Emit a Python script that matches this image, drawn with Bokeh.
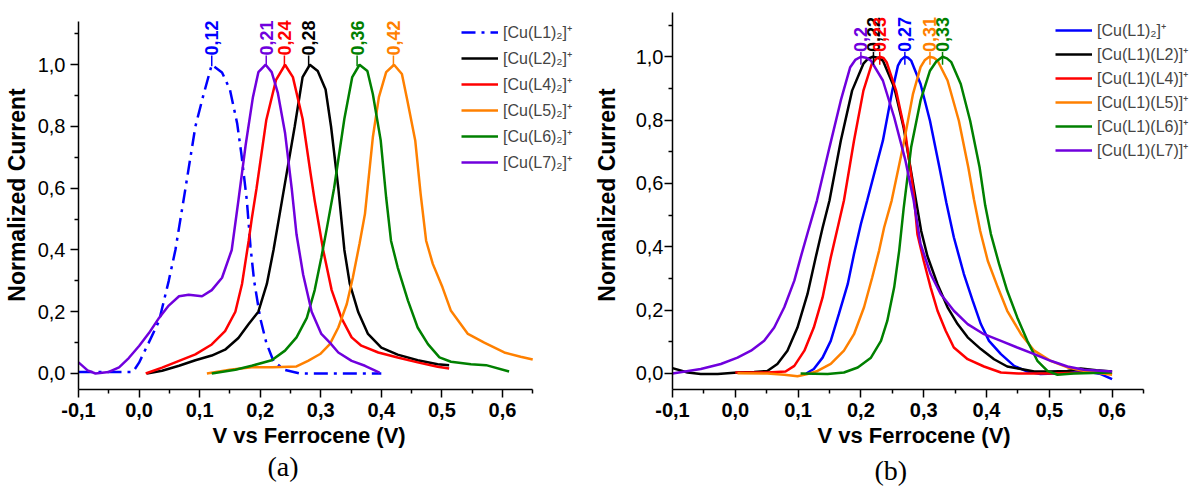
import math
from bokeh.plotting import figure
from bokeh.models import (Range1d, FixedTicker, CustomJSTickFormatter, Legend,
                          LegendItem, Title, ColumnDataSource)
from bokeh.layouts import row
from bokeh.core.properties import value
from bokeh.embed import file_html
from bokeh.resources import INLINE

# ---------------- data: panel (a) ----------------
a_L1_x = [-0.1, -0.05, -0.01, 0.0, 0.016, 0.033, 0.049, 0.06, 0.075, 0.093, 0.106, 0.12, 0.137, 0.15,
          0.162, 0.169, 0.178, 0.184, 0.19, 0.2, 0.21, 0.222, 0.24, 0.265, 0.3, 0.35, 0.4]
a_L1_y = [0.005, 0.005, 0.005, 0.035, 0.10, 0.17, 0.30, 0.40, 0.58, 0.80, 0.90, 1.0, 0.975, 0.92,
          0.81, 0.71, 0.56, 0.41, 0.30, 0.18, 0.10, 0.04, 0.012, 0.0, 0.0, 0.0, 0.0]

a_L2_x = [0.013, 0.038, 0.066, 0.093, 0.12, 0.142, 0.164, 0.181, 0.197, 0.211, 0.222, 0.236, 0.243,
          0.257, 0.27, 0.282, 0.295, 0.308, 0.317, 0.329, 0.339, 0.348, 0.362, 0.378, 0.40, 0.427,
          0.46, 0.493, 0.512]
a_L2_y = [0.0, 0.009, 0.025, 0.043, 0.058, 0.077, 0.115, 0.16, 0.20, 0.29, 0.40, 0.56, 0.64,
          0.80, 0.96, 1.0, 0.98, 0.92, 0.80, 0.60, 0.40, 0.29, 0.198, 0.128, 0.084, 0.061,
          0.043, 0.03, 0.027]

a_L4_x = [0.011, 0.038, 0.066, 0.093, 0.12, 0.142, 0.159, 0.17, 0.181, 0.186, 0.194, 0.21, 0.226,
          0.241, 0.254, 0.27, 0.283, 0.29, 0.297, 0.304, 0.318, 0.334, 0.351, 0.367, 0.395, 0.427,
          0.46, 0.493, 0.512]
a_L4_y = [0.0, 0.019, 0.041, 0.062, 0.094, 0.137, 0.20, 0.29, 0.43, 0.50, 0.60, 0.82, 0.95,
          1.0, 0.96, 0.825, 0.65, 0.56, 0.48, 0.40, 0.27, 0.18, 0.117, 0.09, 0.068, 0.052,
          0.036, 0.022, 0.016]

a_L5_x = [0.112, 0.15, 0.186, 0.22, 0.26, 0.279, 0.299, 0.315, 0.329, 0.343, 0.353, 0.364, 0.373,
          0.386, 0.396, 0.408, 0.421, 0.434, 0.443, 0.456, 0.465, 0.474, 0.485, 0.501, 0.515,
          0.543, 0.57, 0.603, 0.63, 0.65]
a_L5_y = [0.0, 0.012, 0.02, 0.02, 0.023, 0.041, 0.063, 0.095, 0.149, 0.225, 0.311, 0.42, 0.517,
          0.765, 0.895, 0.976, 1.0, 0.97, 0.884, 0.755, 0.58, 0.43, 0.355, 0.279, 0.203,
          0.128, 0.10, 0.068, 0.054, 0.045]

a_L6_x = [0.12, 0.159, 0.186, 0.219, 0.241, 0.26, 0.277, 0.29, 0.301, 0.31, 0.322, 0.339, 0.352,
          0.364, 0.377, 0.386, 0.399, 0.408, 0.416, 0.427, 0.444, 0.46, 0.477, 0.496, 0.515,
          0.548, 0.573, 0.611]
a_L6_y = [0.0, 0.012, 0.025, 0.043, 0.074, 0.117, 0.18, 0.27, 0.376, 0.47, 0.60, 0.825, 0.96,
          1.0, 0.98, 0.905, 0.755, 0.57, 0.43, 0.344, 0.236, 0.149, 0.095, 0.052, 0.038,
          0.03, 0.027, 0.0065]

a_L7_x = [-0.1, -0.085, -0.072, -0.05, -0.033, -0.017, 0.0, 0.016, 0.033, 0.049, 0.066, 0.082,
          0.104, 0.12, 0.137, 0.153, 0.164, 0.176, 0.188, 0.197, 0.209, 0.219, 0.229, 0.241,
          0.252, 0.26, 0.271, 0.285, 0.301, 0.315, 0.329, 0.351, 0.373, 0.397]
a_L7_y = [0.036, 0.01, 0.0, 0.005, 0.02, 0.05, 0.089, 0.13, 0.18, 0.22, 0.25, 0.255,
          0.25, 0.27, 0.31, 0.40, 0.56, 0.74, 0.895, 0.976, 1.0, 0.976, 0.91, 0.78,
          0.60, 0.45, 0.32, 0.20, 0.128, 0.10, 0.068, 0.041, 0.025, 0.003]

a_names = ["[Cu(L1)\u2082]\u207a", "[Cu(L2)\u2082]\u207a", "[Cu(L4)\u2082]\u207a",
           "[Cu(L5)\u2082]\u207a", "[Cu(L6)\u2082]\u207a", "[Cu(L7)\u2082]\u207a"]
a_peaks = [0.12, 0.28, 0.24, 0.42, 0.36, 0.21]
a_peak_labels = ["0,12", "0,28", "0,24", "0,42", "0,36", "0,21"]

# ---------------- data: panel (b) ----------------
b_L1_x = [0.113, 0.125, 0.139, 0.152, 0.165, 0.179, 0.189, 0.2, 0.21, 0.235, 0.25, 0.259, 0.264,
          0.27, 0.275, 0.28, 0.295, 0.31, 0.325, 0.336, 0.348, 0.364, 0.378, 0.391, 0.404, 0.423,
          0.444, 0.465, 0.486, 0.51, 0.555, 0.582, 0.6]
b_L1_y = [0.0, 0.014, 0.05, 0.103, 0.188, 0.282, 0.377, 0.472, 0.546, 0.735, 0.893, 0.972, 0.99,
          1.0, 0.997, 0.988, 0.914, 0.798, 0.651, 0.54, 0.43, 0.314, 0.23, 0.156, 0.103, 0.061,
          0.024, 0.006, -0.002, 0.0, 0.008, -0.002, -0.018]

b_L2_x = [-0.1, -0.076, -0.055, -0.028, 0.0035, 0.03, 0.051, 0.067, 0.083, 0.099, 0.115, 0.128,
          0.139, 0.15, 0.168, 0.186, 0.204, 0.211, 0.219, 0.227, 0.235, 0.253, 0.268, 0.284,
          0.296, 0.306, 0.322, 0.338, 0.354, 0.37, 0.391, 0.412, 0.433, 0.455, 0.476, 0.5,
          0.529, 0.55, 0.575, 0.6]
b_L2_y = [0.017, 0.003, -0.002, -0.002, 0.003, 0.005, 0.008, 0.03, 0.072, 0.145, 0.251, 0.366,
          0.46, 0.546, 0.735, 0.893, 0.978, 0.993, 1.0, 0.997, 0.988, 0.904, 0.777, 0.59,
          0.45, 0.37, 0.282, 0.209, 0.156, 0.114, 0.077, 0.045, 0.022, 0.014, 0.006, 0.006,
          0.008, 0.016, 0.01, 0.006]

b_L4_x = [0.0, 0.051, 0.08, 0.094, 0.11, 0.125, 0.139, 0.152, 0.163, 0.173, 0.189, 0.204, 0.2175,
          0.224, 0.23, 0.236, 0.241, 0.256, 0.271, 0.284, 0.29, 0.30, 0.311, 0.322, 0.335, 0.348,
          0.37, 0.396, 0.423, 0.45, 0.5, 0.55, 0.6]
b_L4_y = [0.003, 0.003, 0.006, 0.024, 0.072, 0.145, 0.24, 0.366, 0.46, 0.546, 0.735, 0.893, 0.978,
          0.993, 1.0, 0.996, 0.983, 0.893, 0.756, 0.57, 0.44, 0.356, 0.272, 0.198, 0.135, 0.082,
          0.045, 0.022, 0.003, 0.0, 0.0, 0.002, 0.003]

b_L5_x = [0.0035, 0.051, 0.078, 0.099, 0.115, 0.131, 0.152, 0.173, 0.189, 0.205, 0.218, 0.229,
          0.237, 0.249, 0.268, 0.283, 0.295, 0.302, 0.309, 0.316, 0.322, 0.338, 0.356, 0.371,
          0.38, 0.39, 0.402, 0.418, 0.433, 0.455, 0.476, 0.502, 0.529, 0.561, 0.6]
b_L5_y = [0.001, 0.0, -0.004, -0.009, -0.002, 0.008, 0.03, 0.072, 0.124, 0.209, 0.303, 0.388,
          0.461, 0.546, 0.725, 0.883, 0.967, 0.99, 1.0, 0.997, 0.988, 0.925, 0.798, 0.651,
          0.55, 0.45, 0.356, 0.272, 0.198, 0.124, 0.072, 0.04, 0.019, 0.006, -0.004]

b_L6_x = [0.104, 0.147, 0.173, 0.195, 0.216, 0.232, 0.242, 0.253, 0.261, 0.268, 0.28, 0.295,
          0.31, 0.32, 0.33, 0.337, 0.344, 0.359, 0.374, 0.389, 0.398, 0.407, 0.42, 0.433, 0.449,
          0.465, 0.481, 0.497, 0.513, 0.539, 0.6]
b_L6_y = [0.0, -0.002, 0.003, 0.019, 0.05, 0.103, 0.166, 0.272, 0.388, 0.52, 0.714, 0.862,
          0.956, 0.985, 1.0, 0.995, 0.983, 0.914, 0.798, 0.651, 0.53, 0.44, 0.346, 0.261, 0.177,
          0.103, 0.04, 0.008, -0.004, 0.0, 0.003]

b_L7_x = [-0.1, -0.055, -0.023, 0.0035, 0.025, 0.046, 0.062, 0.078, 0.094, 0.104, 0.1175, 0.13,
          0.15, 0.168, 0.183, 0.191, 0.2, 0.208, 0.216, 0.235, 0.253, 0.271, 0.284, 0.295, 0.311,
          0.327, 0.348, 0.37, 0.396, 0.423, 0.449, 0.476, 0.502, 0.529, 0.555, 0.6]
b_L7_y = [0.0, 0.014, 0.03, 0.05, 0.072, 0.103, 0.145, 0.209, 0.293, 0.366, 0.46, 0.546,
          0.714, 0.862, 0.967, 0.99, 1.0, 0.997, 0.988, 0.925, 0.809, 0.672, 0.546, 0.409, 0.314,
          0.251, 0.198, 0.156, 0.124, 0.103, 0.082, 0.061, 0.04, 0.022, 0.012, 0.006]

b_names = ["[Cu(L1)\u2082]\u207a", "[Cu(L1)(L2)]\u207a", "[Cu(L1)(L4)]\u207a",
           "[Cu(L1)(L5)]\u207a", "[Cu(L1)(L6)]\u207a", "[Cu(L1)(L7)]\u207a"]
b_peaks = [0.27, 0.22, 0.23, 0.31, 0.33, 0.2]
b_peak_labels = ["0,27", "0,22", "0,23", "0,31", "0,33", "0,2"]

colors = ["#0000FF", "#000000", "#FF0000", "#FF8000", "#008000", "#7000DD"]

x_ticks = [-0.1, 0.0, 0.1, 0.2, 0.3, 0.4, 0.5, 0.6]
x_minor = [-0.05, 0.05, 0.15, 0.25, 0.35, 0.45, 0.55, 0.65]
y_ticks = [0.0, 0.2, 0.4, 0.6, 0.8, 1.0]
y_minor = [0.1, 0.3, 0.5, 0.7, 0.9, 1.1]

x_title = "V vs Ferrocene (V)"
y_title = "Normalized Current"

FONT = "Liberation Sans"


def make_panel(width, b_left, xr, yr, series, names, dashes, peaks, plabels,
               tick_y0, tick_y1, ylab_standoff, tick_standoff_y, legend_loc, legend_spacing,
               letter, letter_offset, letter_standoff, xtitle_offset):
    p = figure(width=width, height=494, x_range=Range1d(*xr), y_range=Range1d(*yr),
               output_backend="svg", toolbar_location=None,
               min_border_left=b_left, min_border_right=0, min_border_top=0,
               min_border_bottom=105)
    p.grid.visible = False
    p.outline_line_color = None
    p.background_fill_color = "white"
    p.border_fill_color = "white"

    fmt = CustomJSTickFormatter(code="return tick.toFixed(1).replace('.', ',');")
    p.xaxis.ticker = FixedTicker(ticks=x_ticks, minor_ticks=x_minor)
    p.yaxis.ticker = FixedTicker(ticks=y_ticks, minor_ticks=y_minor)
    p.xaxis.formatter = fmt
    p.yaxis.formatter = fmt
    p.xaxis.bounds = (-0.1, 0.65)
    p.yaxis.bounds = (yr[0], 1.14)
    for ax in (p.xaxis[0], p.yaxis[0]):
        ax.axis_line_width = 1.5
        ax.major_tick_out = 8
        ax.major_tick_in = 0
        ax.minor_tick_out = 4
        ax.minor_tick_in = 0
        ax.major_tick_line_width = 1.5
        ax.minor_tick_line_width = 1.5
        ax.major_label_text_font = FONT
        ax.major_label_text_font_size = "20px"
        ax.major_label_text_color = "black"
        ax.axis_label_text_font = FONT
        ax.axis_label_text_font_style = "bold"
        ax.axis_label_text_color = "black"
    p.xaxis.major_label_text_font_style = "bold"
    p.xaxis.major_label_standoff = 5
    p.yaxis.major_label_standoff = tick_standoff_y
    p.yaxis.axis_label_standoff = ylab_standoff
    p.yaxis.axis_label_text_font_size = "23px"
    p.yaxis.axis_label = y_title

    # x-axis title centred on the axis extent (the frame is wider than the axis)
    p.add_layout(Title(text=x_title, align="left", offset=xtitle_offset, standoff=2,
                       text_font=FONT, text_font_size="22px", text_font_style="bold",
                       text_color="black"), "below")

    items = []
    for (xs, ys), nm, c, d in zip(series, names, colors, dashes):
        r = p.line(xs, ys, line_color=c, line_width=2.5, line_dash=d)
        items.append(LegendItem(label=nm, renderers=[r]))
    leg = Legend(items=items, location=legend_loc, glyph_width=37, glyph_height=22,
                 label_height=22, label_standoff=5, spacing=legend_spacing, padding=0, margin=0,
                 border_line_color=None, background_fill_alpha=0,
                 label_text_font=FONT, label_text_font_size="16px")
    p.add_layout(leg)

    src = ColumnDataSource(dict(x=peaks, y0=[tick_y0] * len(peaks), y1=[tick_y1] * len(peaks),
                                t=plabels, c=colors))
    p.segment(x0="x", y0="y0", x1="x", y1="y1", line_color="c", line_width=1.5, source=src)
    p.text(x="x", y="y1", text="t", text_color="c", angle=math.pi / 2, text_align="left",
           text_baseline="middle", text_font=value(FONT), text_font_style="bold",
           text_font_size="18px", source=src)

    p.add_layout(Title(text=letter, align="left", offset=letter_offset, standoff=letter_standoff,
                       text_font="Liberation Serif", text_font_size="28px",
                       text_font_style="normal", text_color="black"), "below")
    return p


pa = make_panel(590, 76, (-0.1, 0.7454), (-0.0519, 1.2081),
                [(a_L1_x, a_L1_y), (a_L2_x, a_L2_y), (a_L4_x, a_L4_y), (a_L5_x, a_L5_y),
                 (a_L6_x, a_L6_y), (a_L7_x, a_L7_y)],
                a_names, ["14 6 3 6", "solid", "solid", "solid", "solid", "solid"],
                a_peaks, a_peak_labels, 0.995, 1.03, 5, 5, (383, 216), 4, "(a)", 189, 0, 134)

pb = make_panel(607, 82, (-0.1, 0.736), (-0.0506, 1.1776),
                [(b_L1_x, b_L1_y), (b_L2_x, b_L2_y), (b_L4_x, b_L4_y), (b_L5_x, b_L5_y),
                 (b_L6_x, b_L6_y), (b_L7_x, b_L7_y)],
                b_names, ["solid"] * 6,
                b_peaks, b_peak_labels, 0.975, 1.015, 13, 1, (383, 228), 2, "(b)", 202, 8, 145)

layout = row(pa, pb)
open("out.html", "w").write(file_html(layout, INLINE))
